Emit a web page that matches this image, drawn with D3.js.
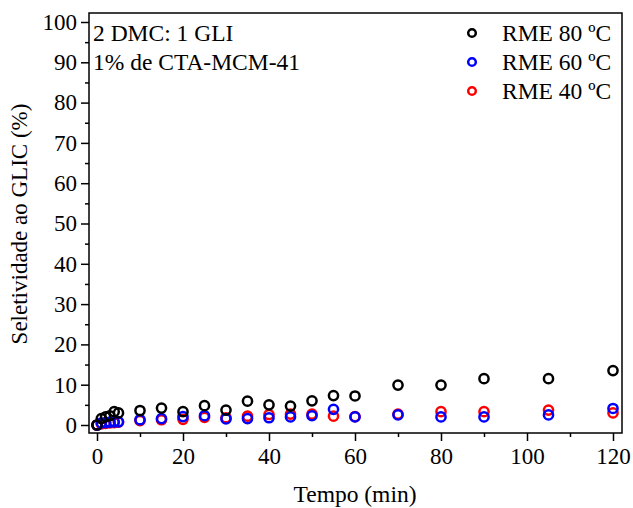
<!DOCTYPE html>
<html>
<head>
<meta charset="utf-8">
<script src="https://cdn.jsdelivr.net/npm/d3@7"></script>
<style>
  html, body { margin: 0; padding: 0; background: #fff; }
  svg { display: block; font-family: "Liberation Serif", "Times New Roman", serif; }
</style>
</head>
<body>
<svg id="chart" width="633" height="508"></svg>
<script>
// data
const time = [0, 1, 2, 3, 4, 5, 10, 15, 20, 25, 30, 35, 40, 45, 50, 55, 60, 70, 80, 90, 105, 120];
const rme80 = [0, 1.6, 2.0, 2.3, 3.3, 3.0, 3.6, 4.2, 3.3, 4.8, 3.7, 5.9, 5.0, 4.7, 6.0, 7.3, 7.2, 9.9, 9.9, 11.5, 11.5, 13.5];
const rme60 = [0, 0.5, 0.6, 0.7, 0.8, 0.8, 1.3, 1.6, 2.1, 2.3, 1.5, 1.6, 1.8, 2.0, 2.3, 3.9, 2.0, 2.5, 2.0, 2.0, 2.5, 4.1];
const rme40 = [0, 0.3, 0.4, 0.5, 0.6, 0.7, 1.1, 1.3, 1.4, 1.9, 1.8, 2.2, 2.6, 2.7, 2.7, 2.2, 2.1, 2.7, 3.3, 3.3, 3.7, 3.0];
const xTicks = [0, 20, 40, 60, 80, 100, 120];
const yTicks = [0, 10, 20, 30, 40, 50, 60, 70, 80, 90, 100];

const seriesList = [
  { name: "RME 40 ºC", values: rme40, color: "#ff0000" },
  { name: "RME 60 ºC", values: rme60, color: "#0000ff" },
  { name: "RME 80 ºC", values: rme80, color: "#000000" },
];
const legendOrder = ["RME 80 ºC", "RME 60 ºC", "RME 40 ºC"];

/***********************
 * dimensions
 ************************/
const frame = { left: 89, right: 622, top: 13, bottom: 433 };
const x = d3.scaleLinear().domain([0, 120]).range([97, 613]);
const y = d3.scaleLinear().domain([0, 100]).range([425, 22]);

const svg = d3.select("#chart");

// frame
svg.append("rect")
  .attr("x", frame.left).attr("y", frame.top)
  .attr("width", frame.right - frame.left)
  .attr("height", frame.bottom - frame.top)
  .attr("fill", "none").attr("stroke", "#000").attr("stroke-width", 1.5);

// x axis
const xAxis = svg.append("g")
  .attr("transform", `translate(0,${frame.bottom})`)
  .call(d3.axisBottom(x).tickValues(xTicks).tickSize(8).tickPadding(7).tickSizeOuter(0));
xAxis.select(".domain").remove();
svg.append("g")
  .attr("transform", `translate(0,${frame.bottom})`)
  .call(d3.axisBottom(x).tickValues(d3.range(10, 120, 20)).tickSize(4).tickFormat("").tickSizeOuter(0))
  .select(".domain").remove();

// y axis
const yAxis = svg.append("g")
  .attr("transform", `translate(${frame.left},0)`)
  .call(d3.axisLeft(y).tickValues(yTicks).tickSize(8).tickPadding(4).tickSizeOuter(0));
yAxis.select(".domain").remove();
svg.append("g")
  .attr("transform", `translate(${frame.left},0)`)
  .call(d3.axisLeft(y).tickValues(d3.range(5, 100, 10)).tickSize(4).tickFormat("").tickSizeOuter(0))
  .select(".domain").remove();

svg.selectAll(".tick line").attr("stroke", "#000").attr("stroke-width", 1.5);
svg.selectAll(".tick text")
  .attr("fill", "#000")
  .style("font-family", "'Liberation Serif', serif")
  .style("font-size", "23px");

// axis titles
svg.append("text")
  .attr("x", 355).attr("y", 502)
  .attr("text-anchor", "middle")
  .style("font-size", "23.5px")
  .text("Tempo (min)");
svg.append("text")
  .attr("transform", "translate(27,224) rotate(-90)")
  .attr("text-anchor", "middle")
  .style("font-size", "23px")
  .text("Seletividade ao GLIC (%)");

// annotation
svg.append("text").attr("x", 93).attr("y", 41).style("font-size", "23.5px").text("2 DMC: 1 GLI");
svg.append("text").attr("x", 93).attr("y", 70).style("font-size", "23.5px").text("1% de CTA-MCM-41");

// points
seriesList.forEach((s) => {
  svg.append("g")
    .selectAll("circle")
    .data(time.map((t, i) => ({ t, v: s.values[i] })))
    .join("circle")
    .attr("cx", (d) => x(d.t))
    .attr("cy", (d) => y(d.v))
    .attr("r", 4.6)
    .attr("fill", "none")
    .attr("stroke", s.color)
    .attr("stroke-width", 2.5);
});

// legend
const legend = svg.append("g");
legendOrder.forEach((name, i) => {
  const s = seriesList.find((d) => d.name === name);
  const ly = 33 + i * 29;
  legend.append("circle")
    .attr("cx", 472).attr("cy", ly).attr("r", 3.8)
    .attr("fill", "none").attr("stroke", s.color).attr("stroke-width", 2.5);
  legend.append("text")
    .attr("x", 502).attr("y", ly + 8)
    .style("font-size", "23.5px")
    .text(name);
});
</script>
</body>
</html>
